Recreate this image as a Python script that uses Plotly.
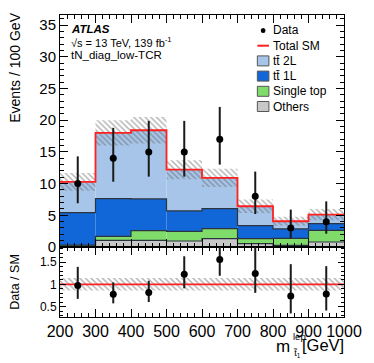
import plotly.graph_objects as go

# canvas and frame (pixels)
W, H = 374, 363
FL, FR, FT, FB = 60, 355, 15, 317
SPLIT = 247  # boundary between main and ratio pad

FONT = "Liberation Sans, Arial, sans-serif"

# ---------------------------------------------------------------------------
# data
# ---------------------------------------------------------------------------
edges = [200, 300, 400, 500, 600, 700, 800, 900, 1000]
centers = [250, 350, 450, 550, 650, 750, 850, 950]

others = [0.15, 1.06, 1.06, 0.95, 1.32, 0.53, 0.25, 0.79]
single_top = [0.15, 0.63, 1.52, 1.53, 1.58, 0.79, 1.12, 1.84]
ttbar_1l = [5.13, 5.95, 5.00, 3.21, 3.16, 2.05, 1.48, 1.06]
ttbar_2l = [4.83, 10.36, 10.84, 6.51, 4.84, 3.06, 1.21, 1.42]
sm_unc = [1.40, 2.00, 2.10, 1.50, 1.45, 1.05, 0.70, 0.90]
ratio_unc = [0.14, 0.14, 0.14, 0.14, 0.14, 0.14, 0.14, 0.14]

data = [10, 14, 15, 15, 17, 8, 3, 4]
data_hi = [14.3, 18.8, 19.9, 19.9, 22.1, 11.9, 5.9, 7.2]
data_lo = [6.9, 10.3, 11.1, 11.1, 13.0, 5.2, 1.4, 2.1]

components = [
    ('Others', others, '#c8c8c8'),
    ('Single top', single_top, '#7fdc6a'),
    ('tt̄ 1L', ttbar_1l, '#1267d8'),
    ('tt̄ 2L', ttbar_2l, '#a6c5e8'),
]

OUTLINE = '#2c3440'
RED = '#ff2020'
HATCH = dict(shape='\\', fgcolor='#606060', bgcolor='rgba(0,0,0,0)',
             size=4, solidity=0.35)


def px(x):
    return (x - FL) / (FR - FL)


def py(y):
    return (FB - y) / (FB - FT)


def step(vals):
    return vals + [vals[-1]]


fig = go.Figure()

# stacked backgrounds
base = [0.0] * len(centers)
tops = []
for name, vals, color in components:
    fig.add_trace(go.Bar(
        x=centers, y=vals, base=list(base), width=100,
        marker=dict(color=color, line=dict(width=0)),
        showlegend=False, xaxis='x', yaxis='y',
    ))
    base = [b + v for b, v in zip(base, vals)]
    tops.append(list(base))
total = base

# uncertainty hatch
fig.add_trace(go.Bar(
    x=centers, y=[2 * u for u in sm_unc],
    base=[t - u for t, u in zip(total, sm_unc)], width=100,
    marker=dict(color='rgba(0,0,0,0)', line=dict(width=0), pattern=HATCH),
    showlegend=False, xaxis='x', yaxis='y',
))

# component outlines
for top in tops[:-1]:
    fig.add_trace(go.Scatter(
        x=edges, y=step(top), mode='lines',
        line=dict(shape='hv', color=OUTLINE, width=1.2),
        showlegend=False, hoverinfo='skip', xaxis='x', yaxis='y',
    ))

# total SM
fig.add_trace(go.Scatter(
    x=edges, y=step(total), mode='lines',
    line=dict(shape='hv', color=RED, width=1.8),
    showlegend=False, xaxis='x', yaxis='y',
))

# data
fig.add_trace(go.Scatter(
    x=centers, y=data, mode='markers',
    marker=dict(color='black', size=7),
    error_y=dict(type='data', symmetric=False,
                 array=[h - d for h, d in zip(data_hi, data)],
                 arrayminus=[d - l for d, l in zip(data, data_lo)],
                 thickness=2, width=0, color='#1a1a1a'),
    showlegend=False, xaxis='x', yaxis='y',
))

# ratio pad
ratio = [d / t for d, t in zip(data, total)]
ratio_hi = [h / t for h, t in zip(data_hi, total)]
ratio_lo = [l / t for l, t in zip(data_lo, total)]
ones = [t / t for t in total]

fig.add_trace(go.Bar(
    x=centers, y=[2 * u for u in ratio_unc],
    base=[o - u for o, u in zip(ones, ratio_unc)], width=100,
    marker=dict(color='rgba(0,0,0,0)', line=dict(width=0), pattern=HATCH),
    showlegend=False, xaxis='x2', yaxis='y2',
))
fig.add_trace(go.Scatter(
    x=edges, y=step(ones), mode='lines',
    line=dict(shape='hv', color=RED, width=1.8),
    showlegend=False, xaxis='x2', yaxis='y2',
))
fig.add_trace(go.Scatter(
    x=centers, y=ratio, mode='markers',
    marker=dict(color='black', size=7),
    error_y=dict(type='data', symmetric=False,
                 array=[h - r for h, r in zip(ratio_hi, ratio)],
                 arrayminus=[r - l for r, l in zip(ratio, ratio_lo)],
                 thickness=2, width=0, color='#1a1a1a'),
    showlegend=False, xaxis='x2', yaxis='y2',
))

# ---------------------------------------------------------------------------
# axes
# ---------------------------------------------------------------------------
split = py(SPLIT)
common = dict(
    showline=True, linecolor='black', linewidth=1, mirror='allticks',
    ticks='inside', ticklen=8, tickwidth=1, tickcolor='black',
    showgrid=False, zeroline=False,
)
fig.update_layout(
    width=W, height=H,
    margin=dict(l=FL, r=W - FR, t=FT, b=H - FB, pad=0),
    paper_bgcolor='white', plot_bgcolor='white',
    font=dict(family=FONT, color='black'),
    barmode='overlay', showlegend=False,
    xaxis=dict(common, domain=[0, 1], anchor='y', range=[200, 1000],
               dtick=100, tick0=0, showticklabels=False, matches='x2',
               minor=dict(ticks='inside', ticklen=4, dtick=20, tick0=0,
                          tickcolor='black')),
    yaxis=dict(common, domain=[split, 1], anchor='x', range=[0, 36.6],
               dtick=5, tick0=0, tickfont=dict(size=15),
               minor=dict(ticks='inside', ticklen=4, dtick=1, tick0=0,
                          tickcolor='black')),
    xaxis2=dict(common, domain=[0, 1], anchor='y2', range=[200, 1000],
                dtick=100, tick0=0, tickfont=dict(size=16),
                minor=dict(ticks='inside', ticklen=4, dtick=20, tick0=0,
                           tickcolor='black')),
    yaxis2=dict(common, domain=[0, split], anchor='x2', range=[0.265, 1.84],
                tickvals=[0.5, 1, 1.5], ticktext=['0.5', '1', '1.5'],
                tickfont=dict(size=12), ticklen=6,
                minor=dict(ticks='inside', ticklen=3, dtick=0.1, tick0=0,
                           tickcolor='black')),
)

# ---------------------------------------------------------------------------
# text
# ---------------------------------------------------------------------------
ann = []


def text(x, y, s, size, xanchor='left', yanchor='middle', angle=0):
    ann.append(dict(x=px(x), y=py(y), xref='paper', yref='paper', text=s,
                    showarrow=False, xanchor=xanchor, yanchor=yanchor,
                    textangle=angle, borderpad=0,
                    font=dict(size=size, family=FONT, color='black')))


text(70, 29.5, '<b><i>ATLAS</i></b>', 11.5)
text(70, 42.5, '√s = 13 TeV, 139 fb<sup>-1</sup>', 11)
text(70, 55.5, 'tN_diag_low-TCR', 11.5)

text(13, 12, 'Events / 100 GeV', 14, xanchor='center', yanchor='top', angle=-90)
text(13, 282, 'Data / SM', 12.5, xanchor='center', angle=-90)

# x title: m with stacked "lep" / stop-1 indices
text(300, 346, 'm', 17, xanchor='right')
text(300.5, 336, 'lep', 9.5)
text(300.5, 353, 't̃<sub>1</sub>', 9)
text(356, 345, '[GeV]', 16.5, xanchor='right')

# legend (drawn by hand: ROOT style)
shapes = []
LX0, LX1, LTX = 265, 277, 280
rows = [30.5 + 15.2 * i for i in range(6)]
labels = ['Data', 'Total SM', 'tt̄ 2L', 'tt̄ 1L', 'Single top', 'Others']
for y, lab in zip(rows, labels):
    text(LTX, y, lab, 12)

# data dot
shapes.append(dict(type='circle', xref='paper', yref='paper',
                   x0=px(268.5), x1=px(273.5), y0=py(rows[0] + 2.5),
                   y1=py(rows[0] - 2.5), fillcolor='black',
                   line=dict(width=0)))
# total SM: hatch + red line
y0, y1 = rows[1] - 5, rows[1] + 5
path = ''
for c in range(-12, 16, 3):
    xa, xb = max(LX0, y0 + c), min(LX1, y1 + c)
    if xa < xb:
        path += 'M{:.4f},{:.4f} L{:.4f},{:.4f} '.format(
            px(xa), py(xa - c), px(xb), py(xb - c))
shapes.append(dict(type='path', xref='paper', yref='paper', path=path,
                   line=dict(color='#707070', width=0.8)))
shapes.append(dict(type='line', xref='paper', yref='paper',
                   x0=px(LX0), x1=px(LX1), y0=py(rows[1]), y1=py(rows[1]),
                   line=dict(color=RED, width=2)))
# filled boxes
box_colors = {lab: col for lab, _, col in components}
for y, lab in zip(rows[2:], labels[2:]):
    shapes.append(dict(type='rect', xref='paper', yref='paper',
                       x0=px(LX0), x1=px(LX1), y0=py(y + 5), y1=py(y - 5),
                       fillcolor=box_colors[lab],
                       line=dict(color='#555555', width=1)))

fig.update_layout(annotations=ann, shapes=shapes)

# the page gets the default 8px body margin; drop it so the figure sits at 0,0
fig.write_html("out.html", config={'displayModeBar': False},
               post_script="document.body.style.margin='0';")
